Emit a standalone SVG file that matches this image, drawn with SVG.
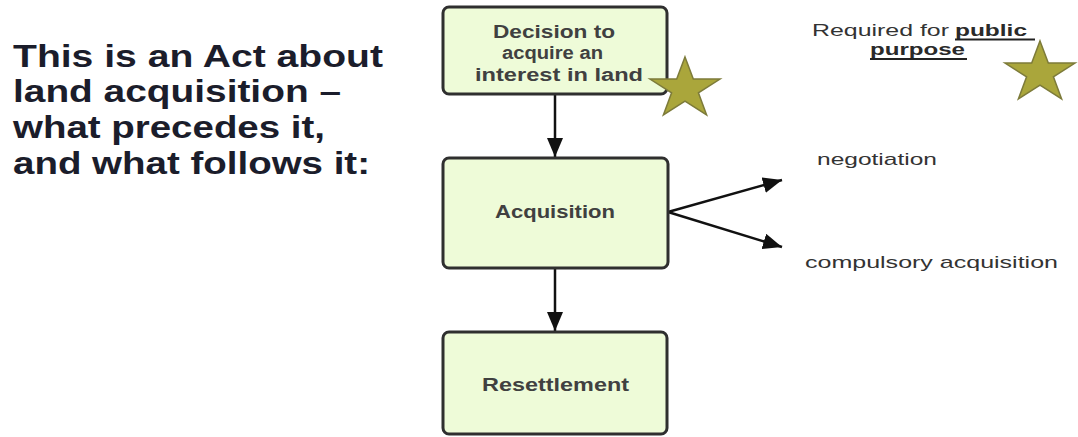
<svg xmlns="http://www.w3.org/2000/svg" width="1078" height="437" viewBox="0 0 1078 437">
<style>
.box{fill:#eefbd8;stroke:#2f2f2f;stroke-width:3}
.bt{font-family:"Liberation Sans",Arial,sans-serif;font-size:18px;fill:#404040;font-weight:bold}
.title{font-family:"Liberation Sans",Arial,sans-serif;font-size:31px;font-weight:bold;fill:#1b1d2b}
.rt{font-family:"Liberation Sans",Arial,sans-serif;font-size:17px;fill:#333}
.rb{font-family:"Liberation Sans",Arial,sans-serif;font-size:17px;fill:#2a2a2a;font-weight:bold}
.star{fill:#aaa63b;stroke:#7d7b3a;stroke-width:1.5}
.conn{stroke:#111;stroke-width:2.5;fill:none}
.ul{stroke:#222;stroke-width:2}
</style>
<defs>
<marker id="ah" markerUnits="userSpaceOnUse" markerWidth="20" markerHeight="16" refX="19" refY="8" orient="auto">
<path d="M0,0 L19,8 L0,16 Z" fill="#111"/>
</marker>
</defs>
<rect width="1078" height="437" fill="#fff"/>
<g id="title">
<text class="title" x="13" y="67" textLength="370" lengthAdjust="spacingAndGlyphs">This is an Act about</text>
<text class="title" x="13" y="102" textLength="328" lengthAdjust="spacingAndGlyphs">land acquisition –</text>
<text class="title" x="13" y="138" textLength="312" lengthAdjust="spacingAndGlyphs">what precedes it,</text>
<text class="title" x="13" y="174" textLength="357" lengthAdjust="spacingAndGlyphs">and what follows it:</text>
</g>
<g id="connectors">
<line class="conn" x1="555" y1="95" x2="555" y2="157" marker-end="url(#ah)"/>
<line class="conn" x1="555" y1="269" x2="555" y2="331" marker-end="url(#ah)"/>
<line class="conn" x1="668" y1="212" x2="782" y2="180" marker-end="url(#ah)"/>
<line class="conn" x1="668" y1="212" x2="782" y2="247" marker-end="url(#ah)"/>
</g>
<g id="decision">
<rect class="box" x="443" y="7" width="224" height="87" rx="6"/>
<text class="bt" x="493" y="38" textLength="122" lengthAdjust="spacingAndGlyphs">Decision to</text>
<text class="bt" x="502" y="59" textLength="101" lengthAdjust="spacingAndGlyphs">acquire an</text>
<text class="bt" x="475" y="81" textLength="168" lengthAdjust="spacingAndGlyphs">interest in land</text>
</g>
<g id="star1">
<polygon class="star" points="685,57 693.3,79.1 720,79.1 698.4,92.8 706.6,114.9 685,101.2 663.4,114.9 671.6,92.8 650,79.1 676.7,79.1"/>
</g>
<g id="acquisition">
<rect class="box" x="443" y="158" width="225" height="110" rx="6"/>
<text class="bt" x="495" y="218" textLength="120" lengthAdjust="spacingAndGlyphs">Acquisition</text>
</g>
<g id="resettlement">
<rect class="box" x="443" y="332" width="224" height="102" rx="6"/>
<text class="bt" x="482" y="391" textLength="147" lengthAdjust="spacingAndGlyphs">Resettlement</text>
</g>
<g id="public-purpose">
<text class="rt" x="812" y="36" textLength="137" lengthAdjust="spacingAndGlyphs">Required for</text>
<text class="rb" x="955" y="36" textLength="72" lengthAdjust="spacingAndGlyphs">public</text>
<line class="ul" x1="955" y1="39.5" x2="1035" y2="39.5"/>
<text class="rb" x="870" y="55" textLength="95" lengthAdjust="spacingAndGlyphs">purpose</text>
<line class="ul" x1="870" y1="59" x2="967" y2="59"/>
</g>
<g id="star2">
<polygon class="star" points="1040,41 1048.3,63.1 1075,63.1 1053.4,76.8 1061.6,98.9 1040,85.2 1018.4,98.9 1026.6,76.8 1005,63.1 1031.7,63.1"/>
</g>
<g id="negotiation">
<text class="rt" x="817" y="165" textLength="120" lengthAdjust="spacingAndGlyphs">negotiation</text>
</g>
<g id="compulsory">
<text class="rt" x="805" y="268" textLength="253" lengthAdjust="spacingAndGlyphs">compulsory acquisition</text>
</g>
</svg>
